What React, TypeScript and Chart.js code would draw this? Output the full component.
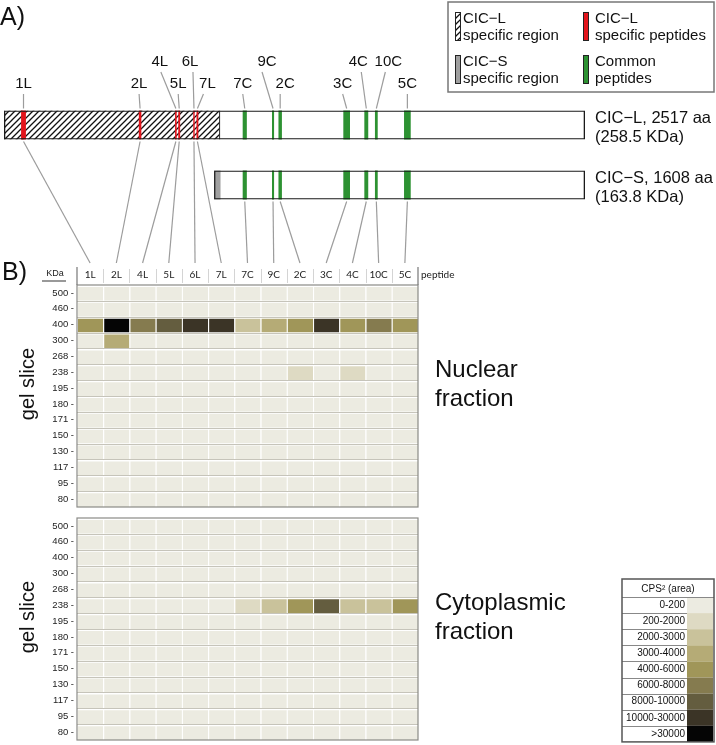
import React, { useEffect, useRef } from 'react';
import { Chart, registerables } from 'chart.js';

Chart.register(...registerables);

// ---------- data ----------
const PROTEINS = ['CIC-L', 'CIC-S'];
const PROTEIN_START = [0, 910];
const PROTEIN_END = [2517, 2517];
const PROTEIN_TITLES = ['CIC−L, 2517 aa', 'CIC−S, 1608 aa'];
const PROTEIN_MASSES = ['(258.5 KDa)', '(163.8 KDa)'];
const L_SPECIFIC_REGION = [0, 937];
const S_SPECIFIC_REGION = [910, 938];

const PEPTIDES = ['1L', '2L', '4L', '5L', '6L', '7L', '7C', '9C', '2C', '3C', '4C', '10C', '5C'];
const PEPTIDE_START = [74, 584, 741, 755, 820, 834, 1034, 1161, 1189, 1470, 1561, 1607, 1733];
const PEPTIDE_END = [95, 595, 748, 763, 826, 842, 1052, 1170, 1204, 1499, 1578, 1619, 1762];
const PEPTIDE_COMMON = [false, false, false, false, false, false, true, true, true, true, true, true, true];

const GEL_SLICES_KDA = ['500', '460', '400', '300', '268', '238', '195', '180', '171', '150', '130', '117', '95', '80'];

const NUCLEAR_CPS = [
  [0, 0, 0, 0, 0, 0, 0, 0, 0, 0, 0, 0, 0],
  [0, 0, 0, 0, 0, 0, 0, 0, 0, 0, 0, 0, 0],
  [5000, 35000, 7000, 9000, 20000, 18000, 2500, 3500, 5000, 20000, 5000, 7000, 5000],
  [0, 3500, 0, 0, 0, 0, 0, 0, 0, 0, 0, 0, 0],
  [0, 0, 0, 0, 0, 0, 0, 0, 0, 0, 0, 0, 0],
  [0, 0, 0, 0, 0, 0, 0, 0, 1000, 0, 1000, 0, 0],
  [0, 0, 0, 0, 0, 0, 0, 0, 0, 0, 0, 0, 0],
  [0, 0, 0, 0, 0, 0, 0, 0, 0, 0, 0, 0, 0],
  [0, 0, 0, 0, 0, 0, 0, 0, 0, 0, 0, 0, 0],
  [0, 0, 0, 0, 0, 0, 0, 0, 0, 0, 0, 0, 0],
  [0, 0, 0, 0, 0, 0, 0, 0, 0, 0, 0, 0, 0],
  [0, 0, 0, 0, 0, 0, 0, 0, 0, 0, 0, 0, 0],
  [0, 0, 0, 0, 0, 0, 0, 0, 0, 0, 0, 0, 0],
  [0, 0, 0, 0, 0, 0, 0, 0, 0, 0, 0, 0, 0],
];

const CYTOPLASMIC_CPS = [
  [0, 0, 0, 0, 0, 0, 0, 0, 0, 0, 0, 0, 0],
  [0, 0, 0, 0, 0, 0, 0, 0, 0, 0, 0, 0, 0],
  [0, 0, 0, 0, 0, 0, 0, 0, 0, 0, 0, 0, 0],
  [0, 0, 0, 0, 0, 0, 0, 0, 0, 0, 0, 0, 0],
  [0, 0, 0, 0, 0, 0, 0, 0, 0, 0, 0, 0, 0],
  [0, 0, 0, 0, 0, 0, 1000, 2500, 5000, 9000, 2500, 2500, 5000],
  [0, 0, 0, 0, 0, 0, 0, 0, 0, 0, 0, 0, 0],
  [0, 0, 0, 0, 0, 0, 0, 0, 0, 0, 0, 0, 0],
  [0, 0, 0, 0, 0, 0, 0, 0, 0, 0, 0, 0, 0],
  [0, 0, 0, 0, 0, 0, 0, 0, 0, 0, 0, 0, 0],
  [0, 0, 0, 0, 0, 0, 0, 0, 0, 0, 0, 0, 0],
  [0, 0, 0, 0, 0, 0, 0, 0, 0, 0, 0, 0, 0],
  [0, 0, 0, 0, 0, 0, 0, 0, 0, 0, 0, 0, 0],
  [0, 0, 0, 0, 0, 0, 0, 0, 0, 0, 0, 0, 0],
];

const LEVEL_LABELS = ['0-200', '200-2000', '2000-3000', '3000-4000', '4000-6000', '6000-8000', '8000-10000', '10000-30000', '>30000'];
const LEVEL_THRESHOLDS = [200, 2000, 3000, 4000, 6000, 8000, 10000, 30000];
const LEVEL_COLORS = ['#ecebe1', '#dedac3', '#c9c29b', '#b5ab76', '#a09659', '#857b4f', '#645d3f', '#3b3426', '#050505'];

// ---------- layout / style ----------
const LABEL_ROW = [1, 1, 0, 1, 0, 1, 1, 0, 1, 1, 0, 0, 1];
const LABEL_DX = [0, -1, -16, -1, -4, 10, -2, -6, 5, -4, -8, 12, 0];
const LEADER_DX = [0, 0, 1, 0, 3, -4, 0, -5, -5, 0, 3, -3, 0];
const SANS = '"Liberation Sans", Arial, Helvetica, sans-serif';
const HEAD = 'Lato, "Open Sans", sans-serif';
const RED = '#e3151c';
const GREEN = '#2d9232';
const GRAY = '#a0a0a0';
const BAR_THICKNESS = 29;

function colorFor(v: number) {
  let k = 0;
  LEVEL_THRESHOLDS.forEach((t) => { if (v >= t) k++; });
  return LEVEL_COLORS[k];
}

const decorations = {
  id: 'decorations',
  afterLayout(chart: any) {
    const s = chart.scales;
    const setX = (sc: any, l: number, r: number) => { sc.left = l; sc.right = r; sc.width = r - l; sc.configure(); };
    const setY = (sc: any, t: number, b: number) => { sc.top = t; sc.bottom = b; sc.height = b - t; sc.configure(); };
    setX(s.xAA, 4, 585);
    setY(s.yProt, 95, 215);
    setX(s.xPep, 77, 418);
    setY(s.yNuc, 285, 507);
    setY(s.yCyt, 518, 740);
  },
  afterDraw(chart: any) {
    const ctx = chart.ctx;
    const { xAA, yProt, xPep, yNuc, yCyt } = chart.scales;
    const hatch = chart.$hatch;
    const half = BAR_THICKNESS / 2;
    const barTop = (i: number) => yProt.getPixelForValue(i) - half;
    const barBottom = (i: number) => yProt.getPixelForValue(i) + half;
    const text = (s: string, x: number, y: number, size: number, align = 'left', color = '#111', family = SANS) => {
      ctx.font = `${size}px ${family}`;
      ctx.fillStyle = color;
      ctx.textAlign = align;
      ctx.textBaseline = 'middle';
      ctx.fillText(s, x, y);
    };
    const seg = (x1: number, y1: number, x2: number, y2: number, color: string, w: number) => {
      ctx.beginPath();
      ctx.strokeStyle = color;
      ctx.lineWidth = w;
      ctx.moveTo(x1, y1);
      ctx.lineTo(x2, y2);
      ctx.stroke();
    };
    ctx.save();

    text('A)', 0, 18, 25);
    text('B)', 2, 273, 25);

    // protein names
    PROTEINS.forEach((p, i) => {
      const x = xAA.getPixelForValue(PROTEIN_END[i]) + 10;
      const c = yProt.getPixelForValue(i);
      text(PROTEIN_TITLES[i], x, c - 7, 16.5);
      text(PROTEIN_MASSES[i], x, c + 12, 16.5);
    });

    // peptide labels, leader lines and connectors
    PEPTIDES.forEach((p, i) => {
      const px = xAA.getPixelForValue((PEPTIDE_START[i] + PEPTIDE_END[i]) / 2);
      const lx = px + LABEL_DX[i];
      const upper = LABEL_ROW[i] === 0;
      text(p, lx, upper ? 62 : 84, 15, 'center');
      seg(lx + LEADER_DX[i], upper ? 72 : 94, px, barTop(0) - 2, '#9c9c9c', 1.2);
      const from = PEPTIDE_COMMON[i] ? 1 : 0;
      seg(px, barBottom(from) + 2, xPep.getPixelForValue(i), yNuc.top - 22, '#9c9c9c', 1.2);
    });

    // top legend
    ctx.strokeStyle = '#777';
    ctx.lineWidth = 1.5;
    ctx.strokeRect(448, 2, 266, 90);
    const swatch = (x: number, y: number, fill: any) => {
      ctx.fillStyle = fill;
      ctx.fillRect(x, y, 5, 28);
      ctx.strokeStyle = '#222';
      ctx.lineWidth = 1;
      ctx.strokeRect(x + 0.5, y + 0.5, 5, 28);
    };
    swatch(455, 12, hatch);
    swatch(583, 12, RED);
    swatch(455, 55, GRAY);
    swatch(583, 55, GREEN);
    text('CIC−L', 463, 19, 15);
    text('specific region', 463, 36, 15);
    text('CIC−L', 595, 19, 15);
    text('specific peptides', 595, 36, 15);
    text('CIC−S', 463, 62, 15);
    text('specific region', 463, 79, 15);
    text('Common', 595, 62, 15);
    text('peptides', 595, 79, 15);

    // heatmap panels
    const panel = (ys: any, header: boolean, words: string[]) => {
      const L = xPep.left, R = xPep.right, T = ys.top, B = ys.bottom;
      for (let r = 1; r < GEL_SLICES_KDA.length; r++) {
        const y = Math.round(ys.getPixelForValue(r - 0.5)) + 0.5;
        seg(L, y, R, y, '#c6c4ba', 1);
      }
      ctx.strokeStyle = '#8a8a86';
      ctx.lineWidth = 1.2;
      ctx.strokeRect(L, T, R - L, B - T);
      GEL_SLICES_KDA.forEach((k, r) => text(k + ' -', L - 3, ys.getPixelForValue(r), 9.5, 'right', '#222'));
      ctx.save();
      ctx.translate(28, (T + B) / 2 - 12);
      ctx.rotate(-Math.PI / 2);
      text('gel slice', 0, 0, 20, 'center');
      ctx.restore();
      const mid = (T + B) / 2;
      text(words[0], 435, mid - 26, 24);
      text(words[1], 435, mid + 3, 24);
      if (header) {
        const hT = T - 18;
        seg(L, hT, L, T, '#777', 1.2);
        seg(R, hT, R, T, '#777', 1.2);
        for (let c = 1; c < PEPTIDES.length; c++) {
          const x = Math.round(xPep.getPixelForValue(c - 0.5)) + 0.5;
          seg(x, hT + 2, x, T - 2, '#d4d4d4', 1);
        }
        PEPTIDES.forEach((p, c) => text(p, xPep.getPixelForValue(c), T - 10, 10, 'center', '#222', HEAD));
        text('KDa', L - 22, T - 11, 9, 'center', '#222');
        seg(L - 35, T - 4, L - 11, T - 4, '#555', 1.2);
        text('peptide', R + 3, T - 10, 10, 'left', '#222', HEAD);
      }
    };
    panel(yNuc, true, ['Nuclear', 'fraction']);
    panel(yCyt, false, ['Cytoplasmic', 'fraction']);

    // colour legend
    const gx = 622, gw = 92, gy = 579, hh = 18, rh = 16.1, sx = 687, sw = 26;
    ctx.fillStyle = '#fff';
    ctx.fillRect(gx, gy, gw, hh + rh * LEVEL_LABELS.length);
    LEVEL_LABELS.forEach((lab, k) => {
      const y = gy + hh + k * rh;
      ctx.fillStyle = LEVEL_COLORS[k];
      ctx.fillRect(sx, y, sw, rh);
      text(lab, sx - 2, y + rh / 2, 10, 'right', '#111');
      seg(gx, Math.round(y) + 0.5, k === 0 ? gx + gw : sx, Math.round(y) + 0.5, '#888', 1);
    });
    text('CPS² (area)', gx + gw / 2, gy + hh / 2 + 1, 10, 'center');
    ctx.strokeStyle = '#555';
    ctx.lineWidth = 1.5;
    ctx.strokeRect(gx, gy, gw, hh + rh * LEVEL_LABELS.length);

    ctx.restore();
  },
};

export default function App() {
  const ref = useRef<HTMLCanvasElement>(null);
  useEffect(() => {
    const canvas = ref.current!;
    const tile = document.createElement('canvas');
    tile.width = 6;
    tile.height = 6;
    const g = tile.getContext('2d')!;
    g.fillStyle = '#fff';
    g.fillRect(0, 0, 6, 6);
    g.strokeStyle = '#111';
    g.lineWidth = 1.3;
    g.beginPath();
    g.moveTo(0, 6); g.lineTo(6, 0);
    g.moveTo(-1, 1); g.lineTo(1, -1);
    g.moveTo(5, 7); g.lineTo(7, 5);
    g.stroke();
    const hatch = canvas.getContext('2d')!.createPattern(tile, 'repeat');

    const protCommon = {
      indexAxis: 'y', xAxisID: 'xAA', yAxisID: 'yProt', barThickness: BAR_THICKNESS, maxBarThickness: BAR_THICKNESS,
      grouped: false, borderSkipped: false, clip: false, inflateAmount: 0,
    };
    const proteinBars = PROTEINS.map((p, i) => ({ y: p, x: [PROTEIN_START[i], PROTEIN_END[i]] }));
    const datasets: any[] = [
      { ...protCommon, label: 'outline', data: proteinBars, backgroundColor: 'rgba(0,0,0,0)', borderColor: '#1a1a1a', borderWidth: 1.3, order: 0 },
      { ...protCommon, label: 'protein', data: proteinBars, backgroundColor: '#ffffff', borderWidth: 0, order: 4 },
      { ...protCommon, label: 'CIC-L specific region', data: [{ y: 'CIC-L', x: L_SPECIFIC_REGION }], backgroundColor: hatch, borderColor: '#1a1a1a', borderWidth: { left: 0, right: 1.2, top: 0, bottom: 0 }, order: 3 },
      { ...protCommon, label: 'CIC-S specific region', data: [{ y: 'CIC-S', x: S_SPECIFIC_REGION }], backgroundColor: GRAY, borderWidth: 0, order: 3 },
      ...PEPTIDES.map((p, i) => ({
        ...protCommon,
        label: p,
        data: (PEPTIDE_COMMON[i] ? PROTEINS : ['CIC-L']).map((pr) => ({ y: pr, x: [PEPTIDE_START[i], PEPTIDE_END[i]] })),
        backgroundColor: PEPTIDE_COMMON[i] ? GREEN : RED,
        borderWidth: 0,
        order: 1,
      })),
    ];
    const heat = (values: number[][], yAxisID: string) => GEL_SLICES_KDA.map((kda, r) => ({
      label: `${yAxisID} ${kda}`,
      data: PEPTIDES.map(() => [r - 0.5, r + 0.5]),
      backgroundColor: values[r].map(colorFor),
      borderColor: '#ffffff',
      borderWidth: { left: 1, top: 2, right: 0, bottom: 0 },
      borderSkipped: false,
      inflateAmount: 0,
      xAxisID: 'xPep',
      yAxisID,
      indexAxis: 'x',
      grouped: false,
      barPercentage: 1,
      categoryPercentage: 1,
      clip: false,
      order: 5,
    }));
    datasets.push(...heat(NUCLEAR_CPS, 'yNuc'), ...heat(CYTOPLASMIC_CPS, 'yCyt'));

    const chart: any = new Chart(canvas, {
      type: 'bar',
      data: { labels: PEPTIDES, datasets },
      options: {
        responsive: false,
        animation: false,
        devicePixelRatio: 1,
        events: [],
        layout: { padding: 0 },
        plugins: { legend: { display: false }, tooltip: { enabled: false } },
        scales: {
          xAA: { type: 'linear', axis: 'x', position: 'bottom', display: false, min: 0, max: 2517, offset: false },
          yProt: { type: 'category', axis: 'y', position: 'left', display: false, labels: PROTEINS, offset: true },
          xPep: { type: 'category', axis: 'x', position: 'bottom', display: false, labels: PEPTIDES, offset: true },
          yNuc: { type: 'linear', axis: 'y', position: 'left', display: false, min: -0.5, max: 13.5, reverse: true, offset: false },
          yCyt: { type: 'linear', axis: 'y', position: 'left', display: false, min: -0.5, max: 13.5, reverse: true, offset: false },
        },
      } as any,
      plugins: [decorations as any],
    });
    chart.$hatch = hatch;
    chart.draw();
    return () => chart.destroy();
  }, []);
  return (
    <div style={{ position: 'absolute', left: 0, top: 0, width: 716, height: 745, background: '#fff' }}>
      <canvas ref={ref} width={716} height={745} style={{ display: 'block', width: 716, height: 745 }} />
    </div>
  );
}
